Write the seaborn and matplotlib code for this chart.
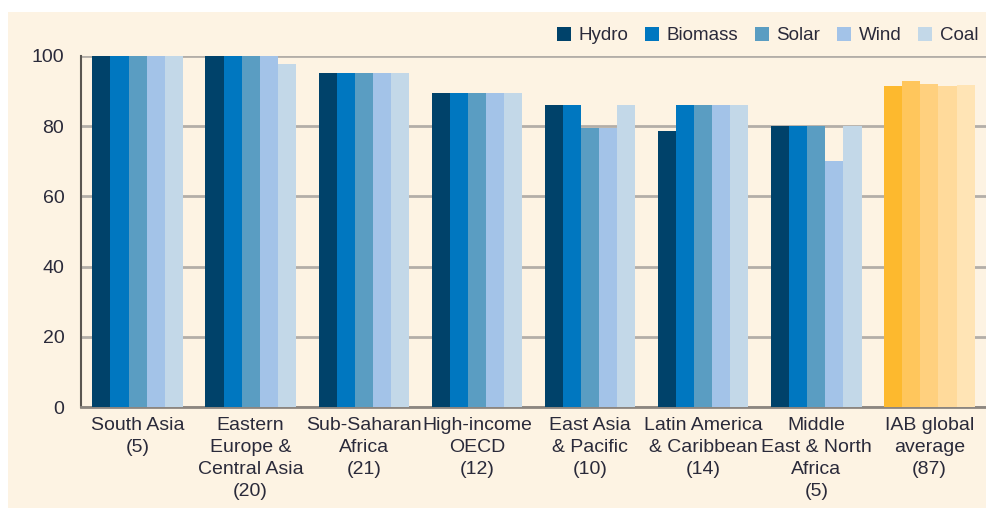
import pandas as pd
import seaborn as sns
import matplotlib.pyplot as plt
from matplotlib.patches import Rectangle

regions = ["South Asia\n(5)", "Eastern\nEurope &\nCentral Asia\n(20)", "Sub-Saharan\nAfrica\n(21)",
           "High-income\nOECD\n(12)", "East Asia\n& Pacific\n(10)", "Latin America\n& Caribbean\n(14)",
           "Middle\nEast & North\nAfrica\n(5)", "IAB global\naverage\n(87)"]
sources = ["Hydro", "Biomass", "Solar", "Wind", "Coal"]

hydro = [100, 100, 95.2, 89.6, 86.0, 78.6, 80, 91.4]
biomass = [100, 100, 95.2, 89.6, 86.0, 86.0, 80, 92.8]
solar = [100, 100, 95.2, 89.6, 79.4, 86.0, 80, 92.0]
wind = [100, 100, 95.2, 89.6, 79.4, 86.0, 70, 91.4]
coal = [100, 97.6, 95.2, 89.6, 86.0, 86.0, 80, 91.8]

blues = ["#00426a", "#0077c0", "#5a9dc2", "#a3c3e8", "#c3d8e8"]
oranges = ["#fdb92e", "#ffc65c", "#ffd07e", "#ffda9b", "#ffe4b5"]
cream = "#fdf3e3"
txt = "#2a2a3a"

df = pd.DataFrame({"region": regions * 5,
                   "source": [s for s in sources for _ in regions],
                   "value": hydro + biomass + solar + wind + coal})

sns.set_style("white")
plt.rcParams["font.family"] = ["Liberation Sans", "DejaVu Sans"]

fig = plt.figure(figsize=(9.87, 5.08), dpi=100)
fig.patch.set_facecolor("white")
fig.patches.append(Rectangle((8 / 987, 0), 1, 1 - 12 / 508, transform=fig.transFigure,
                             facecolor=cream, edgecolor="none", zorder=-10))
ax = fig.add_axes([81 / 987, 1 - 407 / 508, 905 / 987, 351 / 508])
ax.set_facecolor(cream)

sns.barplot(df, x="region", y="value", hue="source", palette=blues, width=0.8,
            saturation=1, ax=ax, legend=True, linewidth=0, zorder=3)

# global average group drawn in orange tints
for i, cont in enumerate(ax.containers):
    cont[len(regions) - 1].set_facecolor(oranges[i])

ax.set_ylim(0, 100)
ax.set_xlim(-0.5, len(regions) - 0.5)
ax.set_yticks([0, 20, 40, 60, 80, 100])
ax.set_xlabel("")
ax.set_ylabel("")
ax.yaxis.grid(True, color="#b3aea8", linewidth=2, zorder=0)
ax.set_axisbelow(True)
for s in ["top", "right"]:
    ax.spines[s].set_visible(False)
ax.spines["left"].set_color("#5a5550")
ax.spines["left"].set_linewidth(1.5)
ax.spines["bottom"].set_color("#8c8680")
ax.spines["bottom"].set_linewidth(2)
ax.tick_params(axis="y", length=0, pad=12, labelsize=14, labelcolor=txt)
ax.tick_params(axis="x", length=0, pad=7, labelsize=14, labelcolor=txt)
for lbl in ax.get_xticklabels():
    lbl.set_linespacing(1.38)

leg = ax.legend(loc="lower right", bbox_to_anchor=(1.0, 1.012), ncol=5, frameon=False,
                fontsize=13.5, handlelength=0.75, handleheight=0.75, handletextpad=0.4,
                columnspacing=0.9, borderaxespad=0)
for t in leg.get_texts():
    t.set_color(txt)

fig.savefig("out.png", dpi=100, facecolor=fig.get_facecolor())
